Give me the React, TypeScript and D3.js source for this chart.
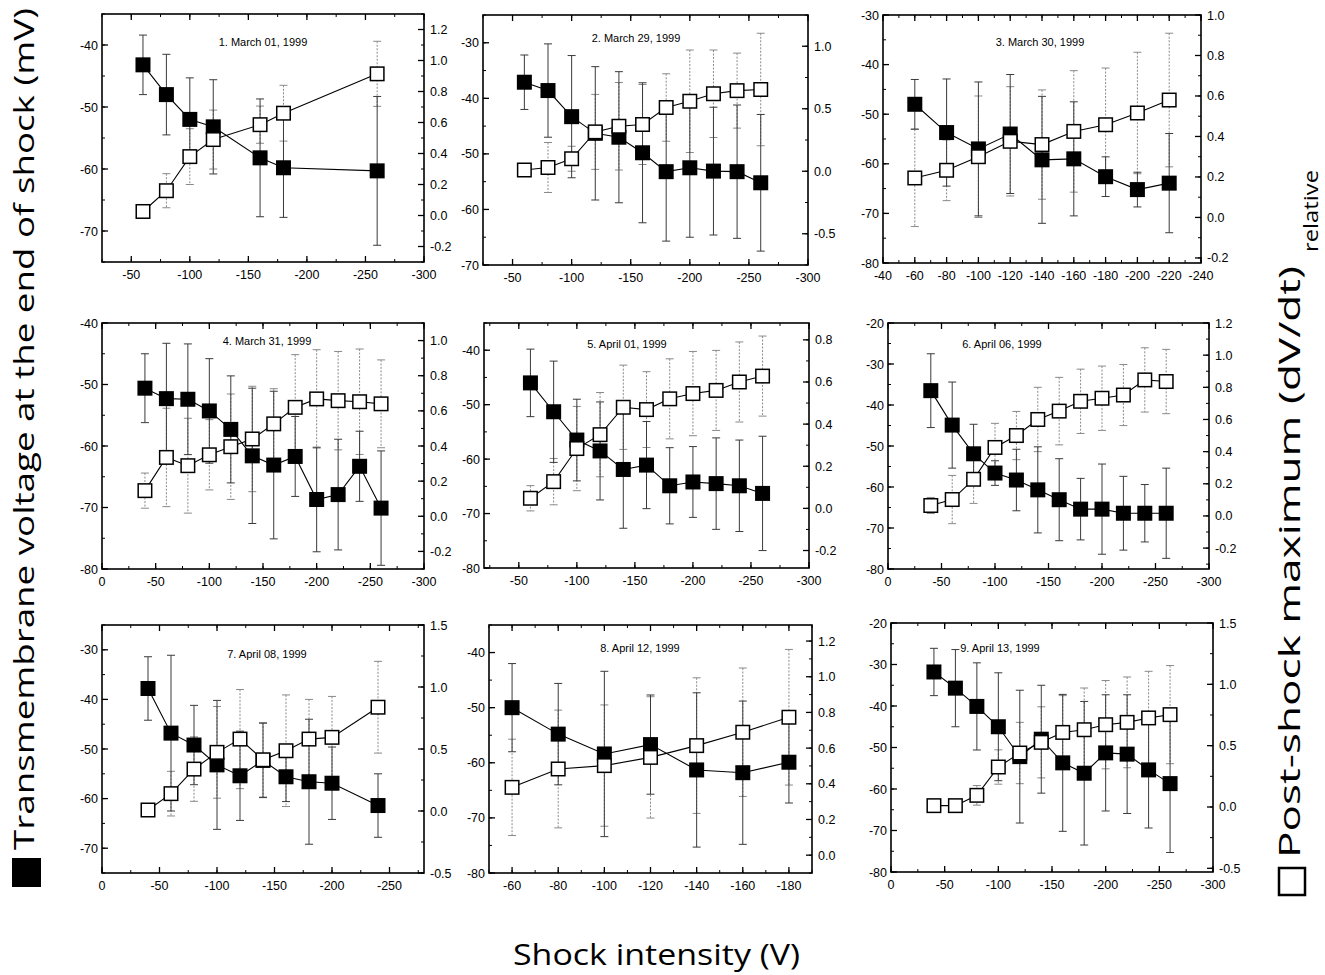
import React from "react";
import * as d3 from "d3";

// ---------- DATA ----------
const titles = [
  "1. March 01, 1999", "2. March 29, 1999", "3. March 30, 1999",
  "4. March 31, 1999", "5. April 01, 1999", "6. April 06, 1999",
  "7. April 08, 1999", "8. April 12, 1999", "9. April 13, 1999",
];

// shock intensities (V)
const p1X = [-60, -80, -100, -120, -160, -180, -260];
const p2X = [-60, -80, -100, -120, -140, -160, -180, -200, -220, -240, -260];
const p3X = [-60, -80, -100, -120, -140, -160, -180, -200, -220];
const p4X = [-40, -60, -80, -100, -120, -140, -160, -180, -200, -220, -240, -260];
const p5X = [-60, -80, -100, -120, -140, -160, -180, -200, -220, -240, -260];
const p6X = [-40, -60, -80, -100, -120, -140, -160, -180, -200, -220, -240, -260];
const p7X = [-40, -60, -80, -100, -120, -140, -160, -180, -200, -240];
const p8X = [-60, -80, -100, -120, -140, -160, -180];
const p9X = [-40, -60, -80, -100, -120, -140, -160, -180, -200, -220, -240, -260];

// transmembrane voltage (mV), filled squares, and SD
const p1V = [-43.2, -48, -52, -53.2, -58.2, -59.8, -60.3];
const p1VErr = [4.8, 6.5, 6.7, 7.6, 9.5, 8, 12];
const p2V = [-37.1, -38.6, -43.3, -46.3, -47.0, -49.8, -53.2, -52.5, -53.1, -53.2, -55.2];
const p2VErr = [4.9, 8.4, 11, 12, 11.8, 12.6, 12.5, 12.5, 11.5, 12, 12.3];
const p3V = [-48, -53.7, -57.0, -54.0, -59.2, -59.0, -62.6, -65.2, -63.9];
const p3VErr = [5, 10.8, 13.5, 12, 12.8, 11.5, 4, 3.5, 10];
const p4V = [-50.6, -52.3, -52.4, -54.3, -57.3, -61.6, -63.1, -61.7, -68.7, -67.9, -63.3, -70.1];
const p4VErr = [5.6, 9, 9, 8.5, 8.7, 11, 12, 6.5, 8.5, 9, 5.7, 9.3];
const p5V = [-46.0, -51.3, -56.5, -58.5, -61.9, -61.1, -64.9, -64.2, -64.5, -64.9, -66.3];
const p5VErr = [6.2, 9.3, 7.5, 9, 10.8, 8, 7, 6.5, 8.4, 8.4, 10.5];
const p6V = [-36.5, -44.9, -51.9, -56.6, -58.3, -60.7, -63.1, -65.4, -65.4, -66.4, -66.4, -66.4];
const p6VErr = [9, 10.5, 7.2, 3, 7.5, 10.5, 10, 7.5, 11, 9, 7, 11];
const p7V = [-37.8, -46.8, -49.2, -53.2, -55.4, -52.3, -55.6, -56.6, -56.9, -61.4];
const p7VErr = [6.4, 15.7, 8, 13, 9, 7.5, 5, 12.6, 7.3, 6.4];
const p8V = [-50, -54.8, -58.4, -56.7, -61.3, -61.8, -59.9];
const p8VErr = [8, 9.2, 15, 9, 14, 13, 7.4];
const p9V = [-31.8, -35.7, -40.1, -45, -52.2, -48, -53.7, -56.2, -51.3, -51.6, -55.4, -58.7];
const p9VErr = [5.7, 9.3, 10.5, 13, 16, 13, 16.5, 17.3, 14, 14.3, 14, 16.6];

// relative post-shock maximum dV/dt, open squares, and SD
const p1D = [0.026, 0.16, 0.38, 0.49, 0.586, 0.66, 0.914];
const p1DErr = [0.04, 0.11, 0.18, 0.19, 0.12, 0.18, 0.21];
const p2D = [0.01, 0.03, 0.10, 0.315, 0.36, 0.374, 0.51, 0.56, 0.62, 0.645, 0.654];
const p2DErr = [0.05, 0.2, 0.1, 0.3, 0.35, 0.32, 0.27, 0.41, 0.35, 0.3, 0.45];
const p3D = [0.195, 0.233, 0.30, 0.376, 0.36, 0.425, 0.458, 0.516, 0.58];
const p3DErr = [0.24, 0.15, 0.3, 0.27, 0.27, 0.3, 0.28, 0.3, 0.33];
const p4D = [0.146, 0.335, 0.288, 0.35, 0.396, 0.44, 0.526, 0.62, 0.668, 0.658, 0.652, 0.64];
const p4DErr = [0.1, 0.28, 0.27, 0.2, 0.3, 0.3, 0.2, 0.3, 0.28, 0.28, 0.3, 0.25];
const p5D = [0.048, 0.127, 0.284, 0.35, 0.48, 0.469, 0.52, 0.545, 0.56, 0.6, 0.628];
const p5DErr = [0.06, 0.11, 0.2, 0.2, 0.2, 0.18, 0.19, 0.2, 0.19, 0.19, 0.19];
const p6D = [0.065, 0.102, 0.228, 0.426, 0.5, 0.6, 0.652, 0.713, 0.732, 0.752, 0.846, 0.836];
const p6DErr = [0.05, 0.15, 0.15, 0.15, 0.15, 0.2, 0.21, 0.2, 0.2, 0.19, 0.2, 0.2];
const p7D = [0.008, 0.14, 0.338, 0.473, 0.58, 0.413, 0.486, 0.58, 0.594, 0.837];
const p7DErr = [0.04, 0.18, 0.26, 0.37, 0.4, 0.3, 0.45, 0.32, 0.33, 0.37];
const p8D = [0.38, 0.483, 0.502, 0.548, 0.614, 0.689, 0.773];
const p8DErr = [0.27, 0.33, 0.34, 0.34, 0.38, 0.36, 0.38];
const p9D = [0.011, 0.011, 0.095, 0.326, 0.44, 0.527, 0.608, 0.63, 0.671, 0.69, 0.726, 0.753];
const p9DErr = [0.03, 0.03, 0.08, 0.14, 0.25, 0.29, 0.3, 0.34, 0.36, 0.37, 0.38, 0.4];

// axis ticks (labels)
const xTicks50 = [-50, -100, -150, -200, -250, -300];
const xTicks0 = [0, -50, -100, -150, -200, -250, -300];
const xTicks0b = [0, -50, -100, -150, -200, -250];
const xTicks20 = [-40, -60, -80, -100, -120, -140, -160, -180, -200, -220, -240];
const xTicks8 = [-60, -80, -100, -120, -140, -160, -180];
const lTicks1 = [-70, -60, -50, -40];
const lTicks2 = [-70, -60, -50, -40, -30];
const lTicks3 = [-80, -70, -60, -50, -40, -30];
const lTicks4 = [-80, -70, -60, -50, -40];
const lTicks6 = [-80, -70, -60, -50, -40, -30, -20];
const rTicksA = [-0.2, 0, 0.2, 0.4, 0.6, 0.8, 1.0, 1.2];
const rTicks2 = [-0.5, 0, 0.5, 1.0];
const rTicks3 = [-0.2, 0, 0.2, 0.4, 0.6, 0.8, 1.0];
const rTicks5 = [-0.2, 0, 0.2, 0.4, 0.6, 0.8];
const rTicks7 = [-0.5, 0, 0.5, 1.0, 1.5];
const rTicks8 = [0, 0.2, 0.4, 0.6, 0.8, 1.0, 1.2];

const seriesX = [p1X, p2X, p3X, p4X, p5X, p6X, p7X, p8X, p9X];
const seriesV = [p1V, p2V, p3V, p4V, p5V, p6V, p7V, p8V, p9V];
const seriesVErr = [p1VErr, p2VErr, p3VErr, p4VErr, p5VErr, p6VErr, p7VErr, p8VErr, p9VErr];
const seriesD = [p1D, p2D, p3D, p4D, p5D, p6D, p7D, p8D, p9D];
const seriesDErr = [p1DErr, p2DErr, p3DErr, p4DErr, p5DErr, p6DErr, p7DErr, p8DErr, p9DErr];

// ---------- LAYOUT (per panel axes) ----------
const panels = [
  { box: [102, 14, 424, 262], xD: [-25, -300], lD: [-75, -35], rD: [-0.3, 1.3], xT: xTicks50, xM: 25, lT: lTicks1, lM: 5, rT: rTicksA, rM: 0.1, title: [263, 46] },
  { box: [483, 15, 808, 265], xD: [-25, -300], lD: [-70, -25], rD: [-0.75, 1.25], xT: xTicks50, xM: 25, lT: lTicks2, lM: 5, rT: rTicks2, rM: 0.25, title: [636, 42] },
  { box: [883, 15, 1201, 263], xD: [-40, -240], lD: [-80, -30], rD: [-0.225, 1.0], xT: xTicks20, xM: 10, lT: lTicks3, lM: 5, rT: rTicks3, rM: 0.1, title: [1040, 46] },
  { box: [102, 323, 424, 569], xD: [0, -300], lD: [-80, -40], rD: [-0.3, 1.1], xT: xTicks0, xM: 25, lT: lTicks4, lM: 5, rT: rTicks3, rM: 0.1, title: [267, 345] },
  { box: [484, 323, 809, 568], xD: [-20, -300], lD: [-80, -35], rD: [-0.283, 0.88], xT: xTicks50, xM: 25, lT: lTicks4, lM: 5, rT: rTicks5, rM: 0.1, title: [627, 348] },
  { box: [888, 323, 1209, 569], xD: [0, -300], lD: [-80, -20], rD: [-0.33, 1.2], xT: xTicks0, xM: 25, lT: lTicks6, lM: 5, rT: rTicksA, rM: 0.1, title: [1002, 348] },
  { box: [102, 625, 424, 873], xD: [0, -280], lD: [-75, -25], rD: [-0.5, 1.5], xT: xTicks0b, xM: 25, lT: lTicks2, lM: 5, rT: rTicks7, rM: 0.25, title: [267, 658] },
  { box: [489, 625, 812, 873], xD: [-50, -190], lD: [-80, -35], rD: [-0.1, 1.29], xT: xTicks8, xM: 10, lT: lTicks4, lM: 5, rT: rTicks8, rM: 0.1, title: [640, 652] },
  { box: [891, 623, 1213, 872], xD: [0, -300], lD: [-80, -20], rD: [-0.53, 1.5], xT: xTicks0, xM: 25, lT: lTicks6, lM: 5, rT: rTicks7, rM: 0.25, title: [1000, 652] },
];

const TICK_FONT = "'Liberation Sans', Arial, sans-serif";
const LABEL_FONT = "'Open Sans', 'DejaVu Sans', sans-serif";

function minorTicks(domain: number[], step: number) {
  const lo = Math.min(domain[0], domain[1]);
  const hi = Math.max(domain[0], domain[1]);
  const out: number[] = [];
  for (let v = Math.ceil(lo / step - 1e-9) * step; v <= hi + 1e-9; v += step) out.push(v);
  return out;
}

function fmtR(v: number) {
  const r = Math.round(v * 10) / 10;
  return (Math.abs(r) < 1e-9 ? 0 : r).toFixed(1);
}

function Panel({ i }: { i: number }) {
  const p = panels[i];
  const [L, T, R, B] = p.box;
  const x = d3.scaleLinear().domain(p.xD).range([L, R]);
  const yL = d3.scaleLinear().domain(p.lD).range([B, T]);
  const yR = d3.scaleLinear().domain(p.rD).range([B, T]);
  const xs = seriesX[i];
  const v = seriesV[i];
  const ve = seriesVErr[i];
  const dd = seriesD[i];
  const de = seriesDErr[i];
  const lineV = d3.line<number>().x((_, k) => x(xs[k])).y((d) => yL(d));
  const lineD = d3.line<number>().x((_, k) => x(xs[k])).y((d) => yR(d));
  const S = 15;
  const cap = 4;
  const inRange = (val: number, dom: number[]) =>
    val >= Math.min(dom[0], dom[1]) - 1e-9 && val <= Math.max(dom[0], dom[1]) + 1e-9;

  return (
    <g>
      {minorTicks(p.xD, p.xM).map((t, k) => (
        <g key={"xm" + k}>
          <line x1={x(t)} x2={x(t)} y1={B} y2={B - 3} stroke="#000" strokeWidth={1} />
          <line x1={x(t)} x2={x(t)} y1={T} y2={T + 3} stroke="#000" strokeWidth={1} />
        </g>
      ))}
      {p.xT.filter((t) => inRange(t, p.xD)).map((t, k) => (
        <g key={"xM" + k}>
          <line x1={x(t)} x2={x(t)} y1={B} y2={B - 6} stroke="#000" strokeWidth={1.3} />
          <line x1={x(t)} x2={x(t)} y1={T} y2={T + 6} stroke="#000" strokeWidth={1.3} />
        </g>
      ))}
      {p.xT.map((t, k) => (
        <text key={"xl" + k} x={x(t)} y={B + 17} textAnchor="middle" fontFamily={TICK_FONT} fontSize={12.5}>
          {String(t)}
        </text>
      ))}
      {minorTicks(p.lD, p.lM).map((t, k) => (
        <line key={"lm" + k} x1={L} x2={L + 3} y1={yL(t)} y2={yL(t)} stroke="#000" strokeWidth={1} />
      ))}
      {p.lT.map((t, k) => (
        <g key={"lM" + k}>
          <line x1={L} x2={L + 6} y1={yL(t)} y2={yL(t)} stroke="#000" strokeWidth={1.3} />
          <text x={L - 4} y={yL(t) + 4.5} textAnchor="end" fontFamily={TICK_FONT} fontSize={12.5}>
            {String(t)}
          </text>
        </g>
      ))}
      {minorTicks(p.rD, p.rM).map((t, k) => (
        <line key={"rm" + k} x1={R} x2={R - 3} y1={yR(t)} y2={yR(t)} stroke="#000" strokeWidth={1} />
      ))}
      {p.rT.map((t, k) => (
        <g key={"rM" + k}>
          <line x1={R} x2={R - 6} y1={yR(t)} y2={yR(t)} stroke="#000" strokeWidth={1.3} />
          <text x={R + 6} y={yR(t) + 4.5} textAnchor="start" fontFamily={TICK_FONT} fontSize={12.5}>
            {fmtR(t)}
          </text>
        </g>
      ))}
      <rect x={L} y={T} width={R - L} height={B - T} fill="none" stroke="#000" strokeWidth={1.6} />

      {dd.map((d, k) => {
        const cx = x(xs[k]);
        const y1 = yR(d + de[k]);
        const y2 = yR(d - de[k]);
        return (
          <g key={"de" + k} stroke="#8a8a8a" strokeWidth={1} strokeDasharray="2,1.5">
            <line x1={cx} x2={cx} y1={y1} y2={y2} />
            <line x1={cx - cap} x2={cx + cap} y1={y1} y2={y1} strokeDasharray="none" />
            <line x1={cx - cap} x2={cx + cap} y1={y2} y2={y2} strokeDasharray="none" />
          </g>
        );
      })}
      {v.map((d, k) => {
        const cx = x(xs[k]);
        const y1 = yL(d + ve[k]);
        const y2 = yL(d - ve[k]);
        return (
          <g key={"ve" + k} stroke="#3a3a3a" strokeWidth={1}>
            <line x1={cx} x2={cx} y1={y1} y2={y2} />
            <line x1={cx - cap} x2={cx + cap} y1={y1} y2={y1} />
            <line x1={cx - cap} x2={cx + cap} y1={y2} y2={y2} />
          </g>
        );
      })}

      <path d={lineV(v) || ""} fill="none" stroke="#000" strokeWidth={1.1} />
      <path d={lineD(dd) || ""} fill="none" stroke="#000" strokeWidth={1.1} />

      {v.map((d, k) => (
        <rect key={"vs" + k} x={x(xs[k]) - S / 2} y={yL(d) - S / 2} width={S} height={S} fill="#000" />
      ))}
      {dd.map((d, k) => (
        <rect key={"ds" + k} x={x(xs[k]) - S / 2 + 0.75} y={yR(d) - S / 2 + 0.75} width={S - 1.5} height={S - 1.5}
          fill="#fff" stroke="#000" strokeWidth={1.5} />
      ))}

      <text x={p.title[0]} y={p.title[1]} textAnchor="middle" fontFamily={TICK_FONT} fontSize={11}>
        {titles[i]}
      </text>
    </g>
  );
}

export default function App() {
  return (
    <svg width={1325} height={975} style={{ position: "absolute", left: 0, top: 0, background: "#fff" }}>
      <rect x={0} y={0} width={1325} height={975} fill="#fff" />
      {panels.map((_, i) => (
        <Panel key={i} i={i} />
      ))}

      <rect x={12} y={858} width={29} height={29} fill="#000" />
      <text transform="translate(34,850) rotate(-90)" fontFamily={LABEL_FONT} fontSize={28}
        textLength={842} lengthAdjust="spacingAndGlyphs">
        Transmembrane voltage at the end of shock (mV)
      </text>

      <rect x={1279} y={868} width={26} height={27} fill="#fff" stroke="#000" strokeWidth={2.5} />
      <text transform="translate(1300,858) rotate(-90)" fontFamily={LABEL_FONT} fontSize={29}
        textLength={592} lengthAdjust="spacingAndGlyphs">
        Post-shock maximum (dV/dt)
      </text>
      <text transform="translate(1318,252) rotate(-90)" fontFamily={LABEL_FONT} fontSize={20}
        textLength={82} lengthAdjust="spacingAndGlyphs">
        relative
      </text>

      <text x={513} y={965} fontFamily={LABEL_FONT} fontSize={29} textLength={287} lengthAdjust="spacingAndGlyphs">
        Shock intensity (V)
      </text>
    </svg>
  );
}
